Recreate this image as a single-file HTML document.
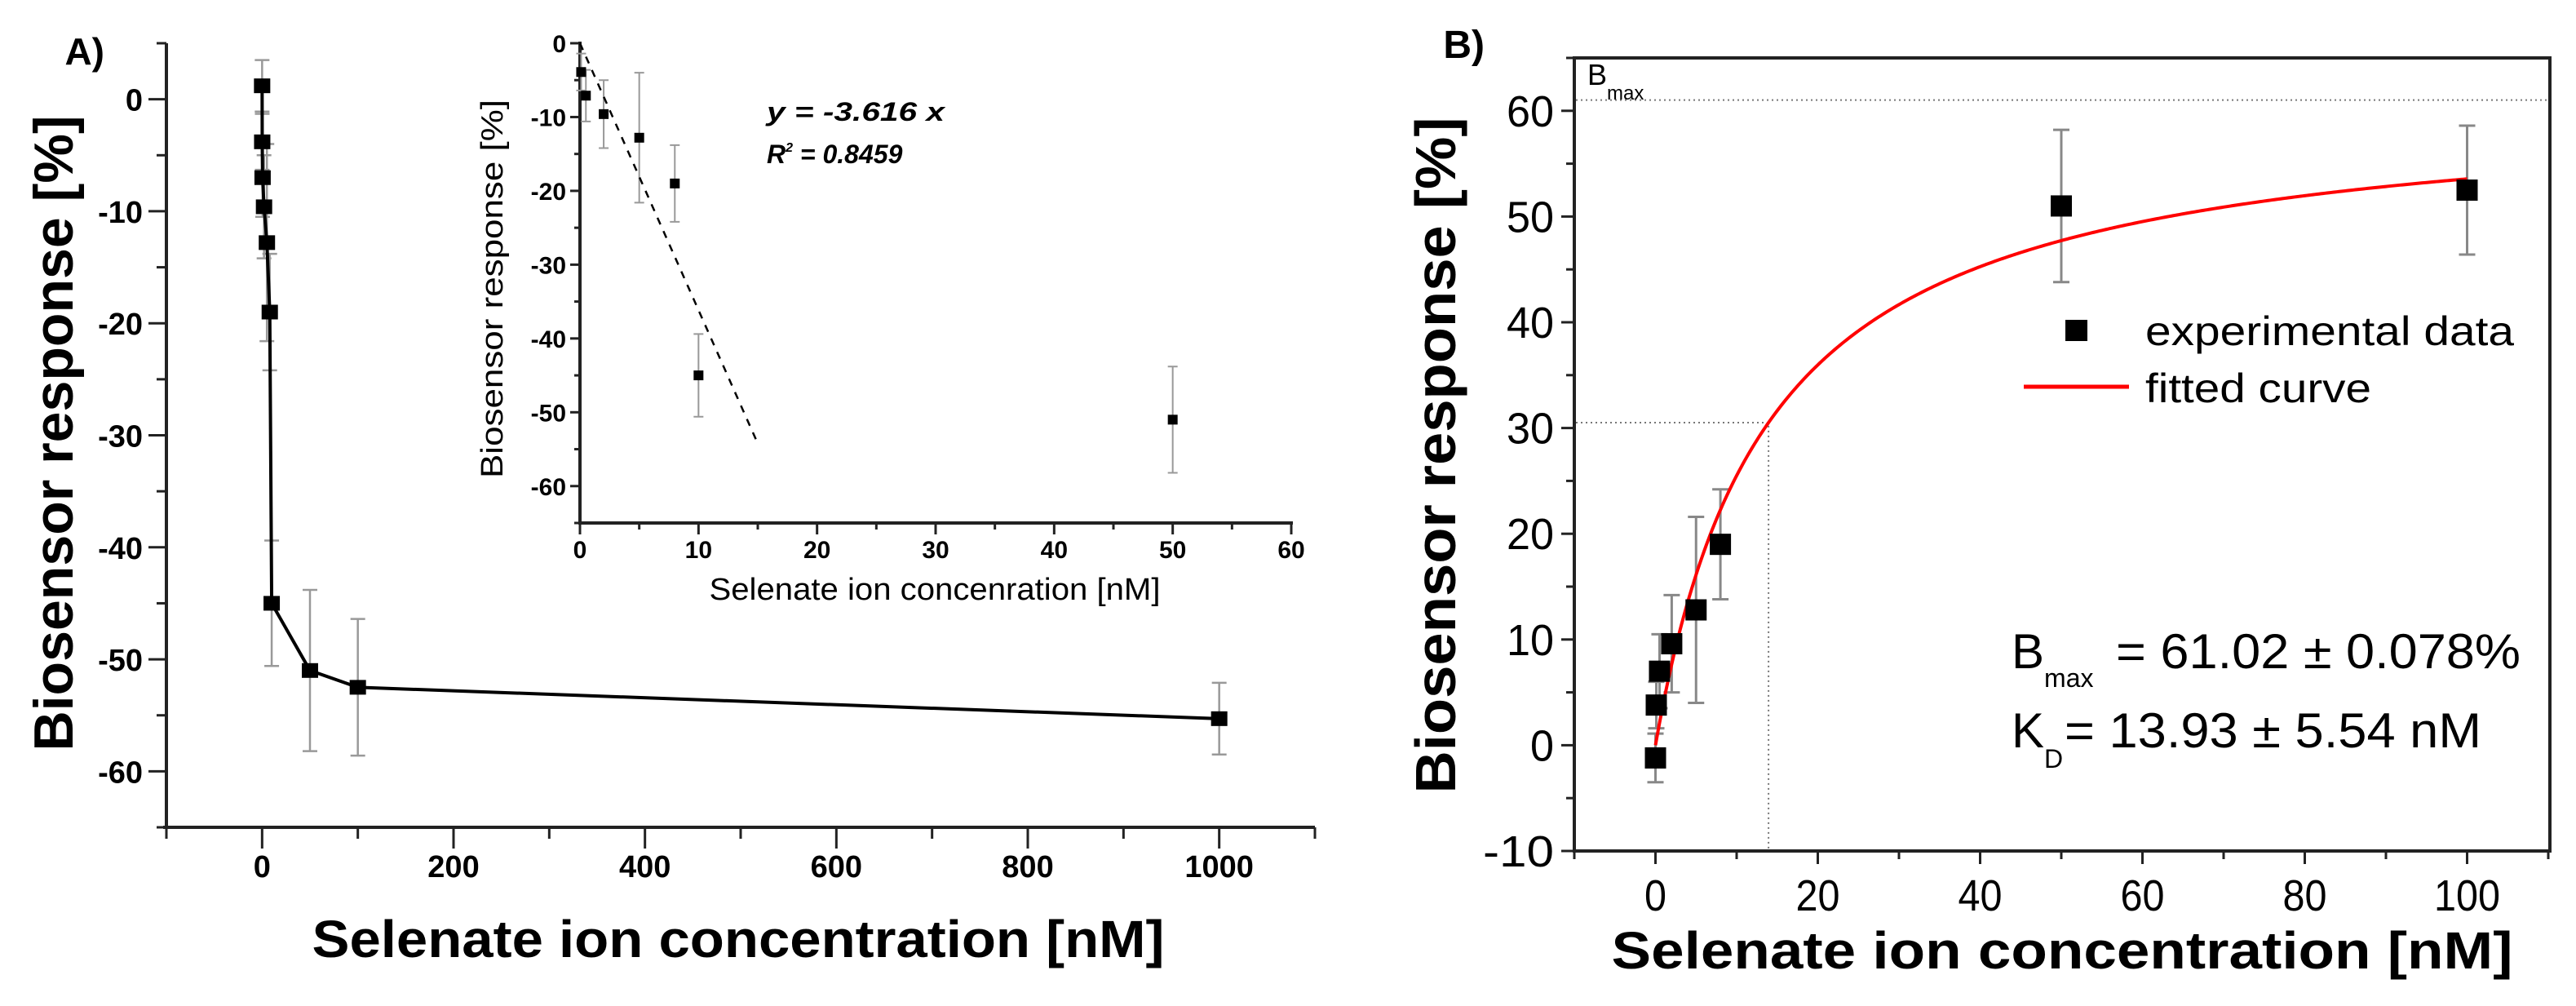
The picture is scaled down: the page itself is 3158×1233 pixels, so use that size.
<!DOCTYPE html>
<html><head><meta charset="utf-8"><style>
html,body{margin:0;padding:0;background:#fff;}
svg{display:block;}
text{font-family:"Liberation Sans",Arial,sans-serif;fill:#000;}
</style></head><body>
<svg id="fig" width="3158" height="1233" viewBox="0 0 3158 1233" xmlns="http://www.w3.org/2000/svg">
<rect width="3158" height="1233" fill="#fff"/>
<g id="pA"></g>
<g id="pI"></g>
<g id="pB"></g>
</svg>
<script>
// Panel A data
const aX = [0, 0.1, 0.5, 2, 5, 8, 10, 50, 100, 1000];
const aY = [1.2, -3.8, -7, -9.6, -12.8, -19, -45, -51, -52.5, -55.3];
const aErr = [2.3, 2.5, 3.5, 4.6, 8.8, 5.2, 5.6, 7.2, 6.1, 3.2];
const aXTicks = [0, 200, 400, 600, 800, 1000];
const aYTicks = [0, -10, -20, -30, -40, -50, -60];
// Inset data
const iX = [0.1, 0.5, 2, 5, 8, 10, 50];
const iY = [-3.9, -7.1, -9.6, -12.8, -19, -45, -51];
const iErr = [2.5, 3.5, 4.6, 8.8, 5.2, 5.6, 7.2];
const iSlope = -3.616;
const iFitEnd = 15;
const iXTicks = [0, 10, 20, 30, 40, 50, 60];
const iYTicks = [0, -10, -20, -30, -40, -50, -60];
// Panel B data
const bX = [0, 0.1, 0.5, 2, 5, 8, 50, 100];
const bY = [-1.2, 3.8, 7, 9.6, 12.8, 19, 51, 52.5];
const bErr = [2.3, 2.2, 3.5, 4.6, 8.8, 5.2, 7.2, 6.1];
const bBmax = 61.02;
const bKd = 13.93;
const bXTicks = [0, 20, 40, 60, 80, 100];
const bYTicks = [-10, 0, 10, 20, 30, 40, 50, 60];

const NS = "http://www.w3.org/2000/svg";
function el(parent, tag, attrs, txt){
  const e = document.createElementNS(NS, tag);
  for (const k in attrs) e.setAttribute(k, attrs[k]);
  if (txt !== undefined) e.textContent = txt;
  parent.appendChild(e);
  return e;
}
function lin(d0,d1,r0,r1){ return v => r0 + (v-d0)*(r1-r0)/(d1-d0); }

// ---------- Panel A ----------
const gA = document.getElementById('pA');
const ax = lin(-100, 1100, 204, 1612), ay = lin(5, -65, 53, 1014);
let e;
e = el(gA,'line',{x1:204,y1:53,x2:204,y2:1014,stroke:'#222','stroke-width':4});
 
e = el(gA,'line',{x1:200,y1:1014,x2:1612,y2:1014,stroke:'#222','stroke-width':4});
 
for (let v=-100; v<=1100; v+=100){
  const x = ax(v), major = (v%200===0);
  e = el(gA,'line',{x1:x,y1:1014,x2:x,y2:1014+(major?26:14),stroke:'#222','stroke-width':3});
   
}
aXTicks.forEach(v=>{
  e = el(gA,'text',{x:ax(v),y:1075,'font-size':38,'font-weight':'bold','text-anchor':'middle'},String(v));
   
});
for (let v=5; v>=-65; v-=5){
  const y = ay(v), major = (v%10===0);
  e = el(gA,'line',{x1:204,y1:y,x2:204-(major?22:12),y2:y,stroke:'#222','stroke-width':3});
   
}
aYTicks.forEach(v=>{
  e = el(gA,'text',{x:175,y:ay(v)+14,'font-size':38,'font-weight':'bold','text-anchor':'end'},String(v));
   
});
// errors
aX.forEach((x,i)=>{
  const px = ax(x), y1 = ay(aY[i]+aErr[i]), y2 = ay(aY[i]-aErr[i]);
  e = el(gA,'path',{d:`M${px},${y1}V${y2}M${px-9},${y1}H${px+9}M${px-9},${y2}H${px+9}`,stroke:'#999','stroke-width':2.5,fill:'none'});
   
});
e = el(gA,'polyline',{points:aX.map((x,i)=>ax(x)+','+ay(aY[i])).join(' '),fill:'none',stroke:'#000','stroke-width':4});
 
aX.forEach((x,i)=>{
  e = el(gA,'rect',{x:ax(x)-10,y:ay(aY[i])-9,width:20,height:18,fill:'#000'});
   
});
e = el(gA,'text',{x:128,y:79,'font-size':46,'font-weight':'bold','text-anchor':'end'},'A)');
 
e = el(gA,'text',{x:0,y:0,'font-size':68,'font-weight':'bold','text-anchor':'middle',transform:'translate(89,531) rotate(-90)',textLength:779,lengthAdjust:'spacingAndGlyphs'},'Biosensor response [%]');
 
e = el(gA,'text',{x:905,y:1173,'font-size':64,'font-weight':'bold','text-anchor':'middle',textLength:1045,lengthAdjust:'spacingAndGlyphs'},'Selenate ion concentration [nM]');
 

// ---------- Inset ----------
const gI = document.getElementById('pI');
const ix = lin(0, 60, 711, 1583), iy = lin(0, -65, 53, 641);
e = el(gI,'line',{x1:711,y1:51,x2:711,y2:641,stroke:'#222','stroke-width':4});
 
e = el(gI,'line',{x1:709,y1:641,x2:1585,y2:641,stroke:'#222','stroke-width':4});
 
for (let v=0; v<=60; v+=5){
  const x = ix(v), major = (v%10===0);
  e = el(gI,'line',{x1:x,y1:641,x2:x,y2:641+(major?14:8),stroke:'#222','stroke-width':3});
   
}
iXTicks.forEach(v=>{
  e = el(gI,'text',{x:ix(v),y:684,'font-size':30,'font-weight':'bold','text-anchor':'middle'},String(v));
   
});
for (let v=0; v>=-65; v-=5){
  const y = iy(v), major = (v%10===0);
  e = el(gI,'line',{x1:711,y1:y,x2:711-(major?12:7),y2:y,stroke:'#222','stroke-width':3});
   
}
iYTicks.forEach(v=>{
  e = el(gI,'text',{x:694,y:iy(v)+11,'font-size':30,'font-weight':'bold','text-anchor':'end'},String(v));
   
});
iX.forEach((x,i)=>{
  const px = ix(x), y1 = iy(Math.min(0,iY[i]+iErr[i])), y2 = iy(iY[i]-iErr[i]);
  e = el(gI,'path',{d:`M${px},${y1}V${y2}M${px-6},${y1}H${px+6}M${px-6},${y2}H${px+6}`,stroke:'#999','stroke-width':2,fill:'none'});
   
});
e = el(gI,'line',{x1:ix(0),y1:iy(0),x2:ix(iFitEnd),y2:iy(iSlope*iFitEnd),stroke:'#000','stroke-width':2.5,'stroke-dasharray':'9 9'});
 
iX.forEach((x,i)=>{
  e = el(gI,'rect',{x:ix(x)-6,y:iy(iY[i])-6,width:12,height:12,fill:'#000'});
   
});
e = el(gI,'text',{x:940,y:148,'font-size':32,'font-weight':'bold','font-style':'italic',textLength:218,lengthAdjust:'spacingAndGlyphs'},'y = -3.616 x');
 
e = el(gI,'text',{x:940,y:200,'font-size':32,'font-weight':'bold','font-style':'italic'});
 
e.innerHTML = 'R<tspan font-size="16" dy="-14">2</tspan><tspan dy="14"> = 0.8459</tspan>';
e = el(gI,'text',{x:0,y:0,'font-size':38,'text-anchor':'middle',transform:'translate(616,354) rotate(-90)',textLength:464,lengthAdjust:'spacingAndGlyphs'},'Biosensor response [%]');
 
e = el(gI,'text',{x:1146,y:735,'font-size':38,'text-anchor':'middle',textLength:553,lengthAdjust:'spacingAndGlyphs'},'Selenate ion concenration [nM]');
 

// ---------- Panel B ----------
const gB = document.getElementById('pB');
const bx = lin(-10, 110, 1930, 3124), by = lin(65, -10, 71, 1043);
e = el(gB,'rect',{x:1930,y:71,width:1196,height:972,fill:'none',stroke:'#222','stroke-width':4});
 
for (let v=-10; v<=110; v+=10){
  const x = bx(v), major = (v%20===0);
  e = el(gB,'line',{x1:x,y1:1043,x2:x,y2:1043+(major?16:10),stroke:'#222','stroke-width':3});
   
}
bXTicks.forEach(v=>{
  e = el(gB,'text',{x:bx(v),y:1116,'font-size':54,'text-anchor':'middle',textLength:String(v).length*27,lengthAdjust:'spacingAndGlyphs'},String(v));
   
});
for (let v=-10; v<=65; v+=5){
  const y = by(v), major = (v%10===0);
  e = el(gB,'line',{x1:1930,y1:y,x2:1930-(major?16:10),y2:y,stroke:'#222','stroke-width':3});
   
}
bYTicks.forEach(v=>{
  e = el(gB,'text',{x:1905,y:by(v)+19,'font-size':54,'text-anchor':'end',textLength:String(v).length*29,lengthAdjust:'spacingAndGlyphs'},String(v));
   
});
// reference dotted lines
e = el(gB,'line',{x1:1932,y1:by(bBmax),x2:3124,y2:by(bBmax),stroke:'#777','stroke-width':2,'stroke-dasharray':'2 4'});
 
e = el(gB,'polyline',{points:`1932,${by(bBmax/2)} ${bx(bKd)},${by(bBmax/2)} ${bx(bKd)},1043`,fill:'none',stroke:'#777','stroke-width':2,'stroke-dasharray':'2 4'});
 
e = el(gB,'text',{x:1946,y:104,'font-size':36});
 
e.innerHTML = 'B<tspan font-size="24" dy="18">max</tspan>';
// error bars
bX.forEach((x,i)=>{
  const px = bx(x), y1 = by(bY[i]+bErr[i]), y2 = by(bY[i]-bErr[i]);
  e = el(gB,'path',{d:`M${px},${y1}V${y2}M${px-10},${y1}H${px+10}M${px-10},${y2}H${px+10}`,stroke:'#888','stroke-width':3,fill:'none'});
   
});
// fitted curve
let pts = [];
for (let k=0; k<=400; k++){ const x = k*100/400; pts.push(bx(x)+','+by(bBmax*x/(bKd+x))); }
e = el(gB,'polyline',{points:pts.join(' '),fill:'none',stroke:'#ff0000','stroke-width':4});
 
bX.forEach((x,i)=>{
  e = el(gB,'rect',{x:bx(x)-13,y:by(bY[i])-13,width:26,height:26,fill:'#000'});
   
});
// legend
e = el(gB,'rect',{x:2532,y:392,width:27,height:26,fill:'#000'});
 
e = el(gB,'text',{x:2630,y:423,'font-size':50,textLength:452,lengthAdjust:'spacingAndGlyphs'},'experimental data');
 
e = el(gB,'line',{x1:2481,y1:474,x2:2610,y2:474,stroke:'#ff0000','stroke-width':5});
 
e = el(gB,'text',{x:2630,y:493,'font-size':50,textLength:277,lengthAdjust:'spacingAndGlyphs'},'fitted curve');
 
// annotation
e = el(gB,'text',{x:2466,y:819,'font-size':60});
 
e.innerHTML = 'B<tspan font-size="32" dy="23">max</tspan><tspan dy="-23" x="2594" textLength="496" lengthAdjust="spacingAndGlyphs">= 61.02 ± 0.078%</tspan>';
e = el(gB,'text',{x:2466,y:916,'font-size':60});
 
e.innerHTML = 'K<tspan font-size="32" dy="25">D</tspan><tspan dy="-25" x="2531" textLength="511" lengthAdjust="spacingAndGlyphs">= 13.93 ± 5.54 nM</tspan>';
e = el(gB,'text',{x:1820,y:71,'font-size':48,'font-weight':'bold','text-anchor':'end'},'B)');
 
e = el(gB,'text',{x:0,y:0,'font-size':70,'font-weight':'bold','text-anchor':'middle',transform:'translate(1784,558) rotate(-90)',textLength:829,lengthAdjust:'spacingAndGlyphs'},'Biosensor response [%]');
 
e = el(gB,'text',{x:2528,y:1187,'font-size':64,'font-weight':'bold','text-anchor':'middle',textLength:1105,lengthAdjust:'spacingAndGlyphs'},'Selenate ion concentration [nM]');
 
</script>
</body></html>
